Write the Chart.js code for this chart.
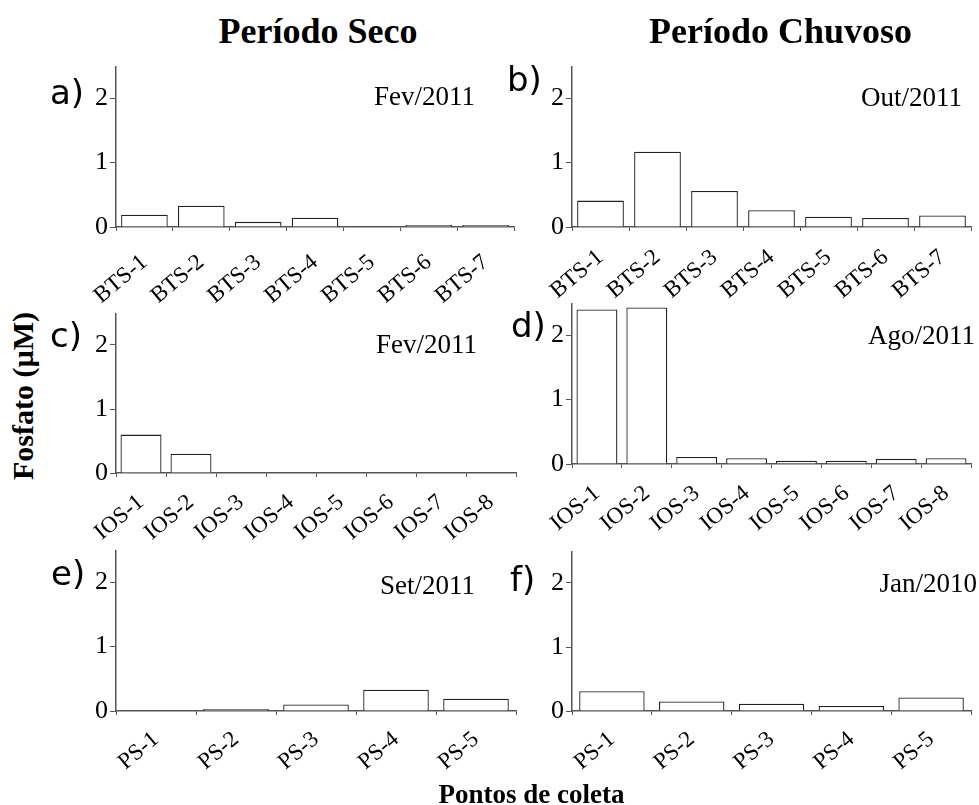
<!DOCTYPE html>
<html><head><meta charset="utf-8">
<script src="https://cdn.jsdelivr.net/npm/chart.js@4.4.0/dist/chart.umd.min.js"></script>
<style>
body{margin:0;background:#fff;}
#wrap{position:relative;width:979px;height:805px;overflow:hidden;background:#fff;}
#wrap canvas{position:absolute;}
.t{position:absolute;white-space:nowrap;line-height:1;color:#000;}
</style></head><body><div id="wrap"></div>
<script>
// ---- data ----
const btsLabels = ['BTS-1','BTS-2','BTS-3','BTS-4','BTS-5','BTS-6','BTS-7'];
const iosLabels = ['IOS-1','IOS-2','IOS-3','IOS-4','IOS-5','IOS-6','IOS-7','IOS-8'];
const psLabels  = ['PS-1','PS-2','PS-3','PS-4','PS-5'];
const btsSeco    = [0.19, 0.33, 0.08, 0.145, 0.01, 0.03, 0.03];
const btsChuvoso = [0.41, 1.17, 0.56, 0.26, 0.16, 0.14, 0.18];
const iosSeco    = [0.60, 0.30, 0, 0, 0, 0, 0, 0];
const iosChuvoso = [2.40, 2.43, 0.11, 0.09, 0.05, 0.05, 0.08, 0.09];
const psSeco     = [0.01, 0.03, 0.10, 0.33, 0.19];
const psChuvoso  = [0.31, 0.15, 0.115, 0.08, 0.21];
const yTicks = [0, 1, 2];
const yMax = 2.5;
const panelLetters = ['a)','b)','c)','d)','e)','f)'];
const panelDates = ['Fev/2011','Out/2011','Fev/2011','Ago/2011','Set/2011','Jan/2010'];
const columnTitles = ['Período Seco','Período Chuvoso'];
const yTitle = 'Fosfato (µM)';
const xTitle = 'Pontos de coleta';

const panelData = [
  [btsLabels, btsSeco], [btsLabels, btsChuvoso],
  [iosLabels, iosSeco], [iosLabels, iosChuvoso],
  [psLabels, psSeco],   [psLabels, psChuvoso]
];

// ---- layout (pixel boxes of plot areas and text anchors) ----
const boxes = [
  {L:116, R:514, T:66,  B:227, pad:18},
  {L:572, R:971, T:66,  B:227, pad:13},
  {L:116, R:516, T:313, B:473, pad:12},
  {L:572, R:971, T:303, B:464, pad:12},
  {L:116, R:516, T:550, B:711, pad:11},
  {L:572, R:971, T:551, B:711, pad:11}
];
const letterPos = [[50,104],[507,91],[50,347],[511,337],[51,585],[510,591]];
const datePos = [[475,106],[962,107],[477,354],[975,345],[475,595],[977,593]];

const wrap = document.getElementById('wrap');
const SERIF = "'Liberation Serif', 'Times New Roman', serif";
const SANS = "'DejaVu Sans', sans-serif";
function addText(txt, opts) {
  const d = document.createElement('div');
  d.className = 't';
  d.textContent = txt;
  Object.assign(d.style, opts);
  wrap.appendChild(d);
  return d;
}

const YW = 60, XH = 80, RP = 4;
const axisColor = '#555';

boxes.forEach((b, i) => {
  const [labels, values] = panelData[i];
  const c = document.createElement('canvas');
  const w = (b.R - b.L) + YW + RP;
  const h = (b.B - b.T) + XH;
  c.width = w; c.height = h;
  c.style.left = (b.L - YW) + 'px';
  c.style.top = b.T + 'px';
  c.style.width = w + 'px'; c.style.height = h + 'px';
  wrap.appendChild(c);
  new Chart(c, {
    type: 'bar',
    data: {
      labels: labels,
      datasets: [{
        data: values,
        backgroundColor: '#ffffff',
        borderColor: '#222',
        borderWidth: 1.3,
        barPercentage: 1,
        categoryPercentage: 0.82
      }]
    },
    options: {
      responsive: false,
      animation: false,
      devicePixelRatio: 1,
      layout: {padding: {left: 0, top: 0, right: RP, bottom: 0}},
      plugins: {legend: {display: false}, tooltip: {enabled: false}},
      scales: {
        x: {
          grid: {display: true, drawOnChartArea: false, drawTicks: true, tickLength: 4, color: axisColor, offset: true},
          border: {display: true, color: axisColor, width: 1.5},
          ticks: {font: {family: SERIF, size: 23}, color: '#000', maxRotation: 40, minRotation: 40, autoSkip: false, padding: b.pad},
          afterFit: s => { s.height = XH; s.paddingLeft = 0; s.paddingRight = 0; }
        },
        y: {
          min: 0, max: yMax,
          afterBuildTicks: s => { s.ticks = yTicks.map(v => ({value: v})); },
          grid: {drawOnChartArea: false, drawTicks: true, tickLength: 6, color: axisColor},
          border: {display: true, color: axisColor, width: 1.5},
          ticks: {font: {family: SERIF, size: 26}, color: '#000', padding: 2},
          afterFit: s => { s.width = YW; s.paddingTop = 0; s.paddingBottom = 0; }
        }
      }
    }
  });
  // panel letter
  const lf = 34;
  addText(panelLetters[i], {left: letterPos[i][0] + 'px', top: (letterPos[i][1] - 0.846 * lf) + 'px',
    fontFamily: SANS, fontSize: lf + 'px'});
  // date label (right aligned)
  const df = 27;
  addText(panelDates[i], {right: (979 - datePos[i][0]) + 'px', top: (datePos[i][1] - 0.8375 * df) + 'px',
    fontFamily: SERIF, fontSize: df + 'px'});
});

// column titles
const tf = 36;
[[318, 42.7], [780.5, 42.7]].forEach((p, i) => {
  addText(columnTitles[i], {left: (p[0] - 250) + 'px', width: '500px', textAlign: 'center',
    top: (p[1] - 0.8375 * tf) + 'px', fontFamily: SERIF, fontSize: tf + 'px', fontWeight: 'bold'});
});
// y title (rotated)
const yf = 30;
addText(yTitle, {left: (23 - 150) + 'px', top: (396 - yf / 2) + 'px', width: '300px', textAlign: 'center',
  fontFamily: SERIF, fontSize: yf + 'px', fontWeight: 'bold', transform: 'rotate(-90deg)', transformOrigin: '50% 50%'});
// x title
const xf = 27;
addText(xTitle, {left: (531.5 - 200) + 'px', width: '400px', textAlign: 'center', top: (804 - 0.8375 * xf) + 'px',
  fontFamily: SERIF, fontSize: xf + 'px', fontWeight: 'bold'});
</script></body></html>
